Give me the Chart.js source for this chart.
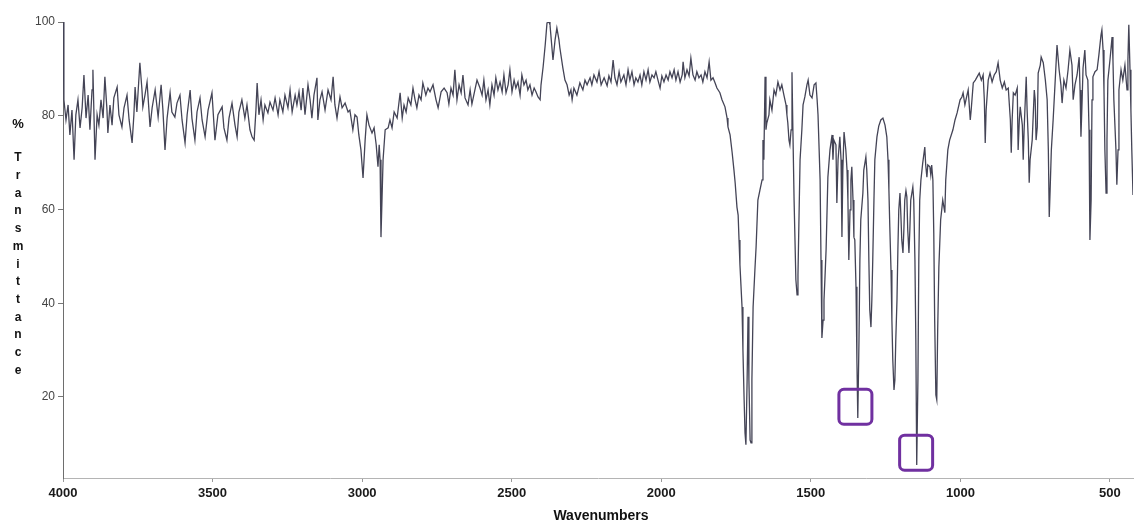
<!DOCTYPE html>
<html>
<head>
<meta charset="utf-8">
<title>IR spectrum</title>
<script src="https://cdn.jsdelivr.net/npm/chart.js@4/dist/chart.umd.min.js"></script>
<style>
  html, body { margin: 0; padding: 0; background: #ffffff; }
  #wrap { width: 1136px; height: 524px; }
</style>
</head>
<body>
<div id="wrap"><canvas id="spectrum" width="1136" height="524"></canvas></div>
<script>
// Wavenumber axis (cm-1) and % transmittance, split by spectral range.
const wn4000to3000 = [
  4000,3997,3990,3983,3977,3970,3963,3957,3950,3943,
  3936,3930,3923,3916,3910,3903,3900,3893,3886,3880,
  3873,3866,3860,3853,3850,3843,3836,3830,3819,3813,
  3803,3796,3786,3779,3769,3763,3759,3753,3743,3736,
  3733,3726,3719,3709,3702,3692,3682,3672,3666,3659,
  3652,3642,3636,3626,3619,3609,3602,3592,3585,3575,
  3569,3559,3552,3542,3535,3525,3515,3502,3492,3482,
  3468,3462,3452,3445,3435,3425,3418,3412,3402,3392,
  3385,3375,3368,3361,3355,3351,3345,3338,3331,3325,
  3315,3308,3298,3291,3281,3275,3265,3258,3248,3241,
  3234,3224,3218,3211,3204,3198,3191,3181,3174,3168,
  3161,3151,3148,3141,3134,3124,3114,3104,3097,3091,
  3084,3074,3067,3057,3047,3041,3031,3024,3017,3011,
  3004
];
const t4000to3000 = [
  100,83.4,79.1,82.3,75.9,81.2,70.6,80.2,83.4,77.4,
  81.7,88.7,79.5,84.4,77,85.5,89.8,70.6,80.2,78,
  83.4,79.5,88.3,81.2,76.3,82.3,78,83.8,86.1,80.2,
  77.6,81.7,84.4,79.1,74.2,80.2,86.1,80.8,91.3,85.5,
  81.9,84.4,87.2,77.6,81.7,85.5,79.7,86.6,81.2,72.7,
  79.5,84.9,80.8,79.7,82.7,84.4,79.1,74.2,80.2,85.5,
  79.5,74.8,80.8,83.8,79.1,75.5,81.2,84.9,74.8,80.2,
  81.9,77.4,74.8,79.5,82.7,78,75.5,80.8,83.4,79.5,
  82.3,77,75.5,74.8,81.2,87,80.2,83.4,79.1,82.3,
  80.6,82.9,81.2,83.8,80.2,83.4,80.8,84.4,81.7,85.5,
  80.8,84.4,82.3,85.1,81.2,85.9,80.2,86.6,83.4,79.5,
  84.4,88.1,79.1,83.4,85.1,81.2,85.5,83.4,88.3,82.3,
  79.5,84,81.7,82.7,80.8,81.2,77,80.2,79.7,75.9,
  72.7
];

const wn3000to2000 = [
  2997,2990,2984,2977,2967,2960,2953,2947,2943,2940,
  2937,2930,2923,2913,2907,2900,2893,2883,2873,2866,
  2860,2853,2846,2837,2830,2823,2817,2810,2803,2797,
  2787,2780,2773,2763,2753,2746,2736,2726,2716,2710,
  2703,2696,2690,2683,2676,2669,2663,2656,2646,2639,
  2633,2623,2616,2606,2599,2593,2586,2579,2573,2566,
  2559,2553,2546,2539,2532,2526,2519,2512,2506,2499,
  2492,2486,2479,2472,2466,2459,2452,2446,2439,2432,
  2425,2419,2412,2405,2402,2395,2388,2382,2375,2372,
  2362,2355,2349,2342,2339,2329,2322,2315,2308,2302,
  2298,2292,2282,2272,2262,2255,2248,2238,2232,2225,
  2215,2208,2201,2191,2181,2175,2168,2161,2155,2148,
  2141,2135,2125,2118,2111,2105,2098,2091,2085,2078,
  2071,2065,2058,2051,2044,2038,2031,2024,2018,2011,
  2004
];
const t3000to2000 = [
  66.7,74.8,80.2,78,76.3,77.4,73.8,69.1,73.8,70.6,
  54.1,70.6,77,77.4,79.1,77.4,80.8,79.5,84.9,79.5,
  82.3,80.8,83.8,82.3,85.9,83.4,81.7,84.4,83.4,87,
  84.4,85.9,85.1,86.6,83.4,81.7,85.1,85.9,84.9,82.5,
  85.9,84.4,89.8,83.4,86.6,84.9,88.7,83.8,82.3,85.5,
  82.5,85.5,87.6,85.9,84.4,87.6,83.4,85.5,82.3,86.6,
  84.4,88.1,85.5,87.2,85.1,88.7,84.9,86.6,89.8,85.1,
  87.6,85.9,87.2,84.4,88.7,86.6,87.6,85.5,86.6,84.4,
  85.9,85.1,84,83.4,86.6,90.4,95.1,99.8,100,99.4,
  91.9,96.2,98.7,96.2,94.5,90.2,87.6,86.6,84.4,85.5,
  83.4,85.9,84.4,87,85.5,87.6,86.6,88.1,86.6,88.7,
  87.2,89.4,86.6,88.1,86.4,88.5,87.2,91.9,88.1,86.6,
  89.4,87.2,88.7,86.6,89.8,87.6,89.4,86.6,88.1,87.2,
  88.7,86.6,89.4,87.6,89.8,87.2,88.7,88.1,89.4,87.6,
  85.9
];

const wn2000to1000 = [
  1998,1991,1984,1977,1971,1964,1957,1951,1944,1937,
  1930,1927,1921,1914,1907,1901,1894,1887,1881,1874,
  1867,1861,1854,1847,1840,1834,1827,1820,1814,1804,
  1797,1787,1780,1777,1770,1763,1757,1753,1747,1743,
  1740,1737,1730,1727,1723,1720,1717,1713,1710,1707,
  1703,1700,1697,1693,1687,1683,1677,1670,1663,1660,
  1657,1653,1650,1647,1640,1637,1630,1623,1617,1610,
  1603,1597,1590,1583,1580,1577,1573,1570,1566,1563,
  1560,1556,1550,1546,1543,1540,1536,1530,1526,1520,
  1513,1509,1503,1496,1489,1483,1479,1476,1469,1466,
  1463,1459,1456,1453,1449,1443,1436,1429,1426,1423,
  1416,1413,1409,1403,1399,1396,1393,1389,1383,1379,
  1376,1373,1369,1366,1363,1359,1356,1353,1349,1346,
  1343,1339,1336,1333,1326,1323,1316,1313,1309,1306,
  1303,1299,1296,1293,1289,1286,1279,1273,1266,1259,
  1252,1246,1242,1239,1236,1232,1229,1226,1222,1219,
  1216,1212,1209,1206,1202,1199,1196,1192,1189,1186,
  1182,1179,1176,1172,1169,1166,1159,1156,1152,1149,
  1146,1142,1139,1136,1132,1126,1119,1116,1112,1109,
  1102,1099,1096,1092,1089,1086,1082,1079,1076,1072,
  1066,1059,1052,1049,1042,1036,1025,1018,1011,1001
];
const t2000to1000 = [
  88.5,87.2,88.7,87.6,89.4,88.1,89.8,87.6,89.4,87.2,
  88.7,91.5,88.1,89.8,88.5,92.3,88.7,87.6,89.4,88.1,
  88.7,87.2,89.4,88.1,91.5,87.6,88.1,87,85.9,84.9,
  83.4,81.9,79.5,77.6,75.9,72.1,68.4,65.7,60.5,58.8,
  53.5,48.2,39.2,30,19.4,12.3,9.8,23.6,37.1,23.6,
  10.8,10.2,23.6,39.2,47.1,52,62,64.2,66.3,74.8,
  70.6,88.3,77,78.5,80.2,83.4,81.2,85.5,84.4,87.2,
  85.5,86.6,84.4,82.3,80.2,78.5,74.8,73.8,77,89.3,
  77,62,45,41.8,46,56.7,70.6,77,82.3,84,
  86.6,87.6,84.4,83.8,86.6,87,83.4,80.2,66.3,49.2,
  32.6,36.4,40.7,45,51.4,66.9,72.7,75.9,70.6,74.8,
  73.8,61.4,70.6,75.5,70.6,54.1,68.4,76.5,72.7,68.4,
  62,49.2,59.9,66.3,69.1,62,54.1,53.5,43.5,27.9,
  15.5,32.2,49.2,57.8,63.5,68.4,71.2,68.4,62,49.2,
  38.6,34.9,40.7,49.2,62,70.6,75.5,77.8,79.1,79.5,
  78,75.5,70.6,64.2,56.3,47.1,36.4,27.9,21.5,23.6,
  32.2,40.7,51.4,59.9,63.5,58.8,53.5,50.7,55.6,62,
  64,62.7,55.6,50.7,55.6,62,64.8,62,49.2,32.2,
  5.5,23.6,49.2,62,66.3,69.9,73.3,69.5,66.9,69.5,
  69.1,67.4,69.5,66.3,55,36.4,20.4,19.4,34.1,47.7,
  57.8,62,59.3,66.3,72.7,74.8,77,79.1,80.6,83.4
];

const wn1000to423 = [
  995,991,985,978,974,967,964,957,950,944,
  937,930,924,920,917,914,907,901,894,887,
  880,874,867,860,853,847,840,833,830,827,
  823,817,810,807,803,800,793,790,787,780,
  777,773,770,767,760,753,750,747,743,740,
  733,730,723,716,710,706,703,700,696,690,
  683,677,670,664,660,654,647,640,634,627,
  623,617,610,603,600,597,593,590,584,580,
  574,570,567,563,560,557,550,543,537,530,
  527,523,520,517,513,510,507,500,493,490,
  487,480,477,473,470,463,457,450,443,440,
  437,433,430,427,423
];
const t1000to423 = [
  84,84.9,82.3,84.4,85.5,79.1,81.2,87,87.6,88.3,
  89.1,87.6,88.7,83.4,74.2,81.2,87.6,89.1,87.2,88.7,
  89.4,91.3,87.6,85.9,87.2,85.5,85.9,79.1,72.1,79.1,
  84.9,84.4,85.9,72.7,79.1,81.9,78,70.6,77,88.3,
  81.2,74.8,65.7,70.6,74.8,85.5,83.4,74.8,77.6,89.1,
  90.8,92.5,91.3,87.6,83.4,72.7,58.4,64.2,72.7,79.1,
  87.6,95.1,89.8,86.6,82.7,87.6,85.9,89.8,94,90.8,
  83.4,86.6,88.7,92.5,85.5,75.5,83.4,90.2,94,88.7,
  87.6,77,53.5,62,83.4,88.3,89.4,89.8,93,97.2,
  98.3,94,85.5,72.7,63.5,74.8,87.6,91.9,96.8,91.9,
  83.4,72.7,65.3,72.7,85.5,89.8,87.6,90.8,85.5,91.9,
  99.4,89.8,81.2,72.7,63.1
];

// Axis ticks and titles
const xTickValues = [4000, 3500, 3000, 2500, 2000, 1500, 1000, 500];
const yTickValues = [20, 40, 60, 80, 100];
const xTitle = 'Wavenumbers';
const yTitleLetters = ['%', 'T', 'r', 'a', 'n', 's', 'm', 'i', 't', 't', 'a', 'n', 'c', 'e'];

// Highlighted bands (box centre in data units)
const markedWn = [1351, 1148];
const markedT = [17.9, 8.1];

function zip(wn, t) {
  const n = Math.min(wn.length, t.length);
  const out = [];
  for (let i = 0; i < n; i++) out.push({ x: wn[i], y: t[i] });
  return out;
}

const spectrum = [].concat(
  zip(wn4000to3000, t4000to3000),
  zip(wn3000to2000, t3000to2000),
  zip(wn2000to1000, t2000to1000),
  zip(wn1000to423, t1000to423)
);

const FONT = "'Liberation Sans', Arial, Helvetica, sans-serif";

const decorations = {
  id: 'decorations',
  afterDraw(chart) {
    const ctx = chart.ctx;
    const xs = chart.scales.x, ys = chart.scales.y;
    ctx.save();

    // Highlight boxes around selected bands
    ctx.strokeStyle = '#7030a0';
    ctx.lineWidth = 3;
    const bw = 33, bh = 35, r = 5;
    for (let i = 0; i < markedWn.length; i++) {
      const cx = xs.getPixelForValue(markedWn[i]);
      const cy = ys.getPixelForValue(markedT[i]);
      ctx.beginPath();
      if (ctx.roundRect) ctx.roundRect(cx - bw / 2, cy - bh / 2, bw, bh, r);
      else ctx.rect(cx - bw / 2, cy - bh / 2, bw, bh);
      ctx.stroke();
    }

    // Axis titles
    ctx.fillStyle = '#111';
    ctx.textAlign = 'center';
    ctx.textBaseline = 'middle';
    ctx.font = 'bold 14px ' + FONT;
    ctx.fillText(xTitle, (xs.left + xs.right) / 2 + 3, 516);

    ctx.font = 'bold 13px ' + FONT;
    ctx.fillText(yTitleLetters[0], 18, 124);
    ctx.font = 'bold 12px ' + FONT;
    for (let i = 1; i < yTitleLetters.length; i++) {
      ctx.fillText(yTitleLetters[i], 18, 158 + (i - 1) * 17.7);
    }
    ctx.restore();
  }
};

new Chart(document.getElementById('spectrum'), {
  type: 'line',
  data: {
    datasets: [{
      data: spectrum,
      borderColor: '#444456',
      borderWidth: 1.3,
      pointRadius: 0,
      tension: 0,
      fill: false
    }]
  },
  options: {
    responsive: false,
    animation: false,
    parsing: true,
    layout: { padding: { left: 0, right: 3, top: 22, bottom: 0 } },
    plugins: { legend: { display: false }, tooltip: { enabled: false } },
    scales: {
      x: {
        type: 'linear',
        reverse: true,
        min: 423,
        max: 4000,
        afterBuildTicks: s => { s.ticks = xTickValues.map(v => ({ value: v })); },
        afterFit: s => { s.height = 46; },
        grid: { drawOnChartArea: false, drawTicks: true, tickLength: 4, color: '#9a9a9a' },
        border: { display: true, color: '#b4b4b4', width: 1 },
        ticks: {
          autoSkip: false, maxRotation: 0, padding: 4, color: '#1a1a1a',
          font: { family: FONT, size: 13, weight: 'bold' },
          callback: v => String(v)
        }
      },
      y: {
        type: 'linear',
        min: 2.7,
        max: 100,
        afterBuildTicks: s => { s.ticks = yTickValues.map(v => ({ value: v })); },
        afterFit: s => { s.width = 63; },
        grid: { drawOnChartArea: false, drawTicks: true, tickLength: 5, color: '#777' },
        border: { display: true, color: '#6e6e6e', width: 1 },
        ticks: {
          padding: 3, color: '#444',
          font: { family: FONT, size: 12 },
          callback: v => String(v)
        }
      }
    }
  },
  plugins: [decorations]
});
</script>
</body>
</html>
